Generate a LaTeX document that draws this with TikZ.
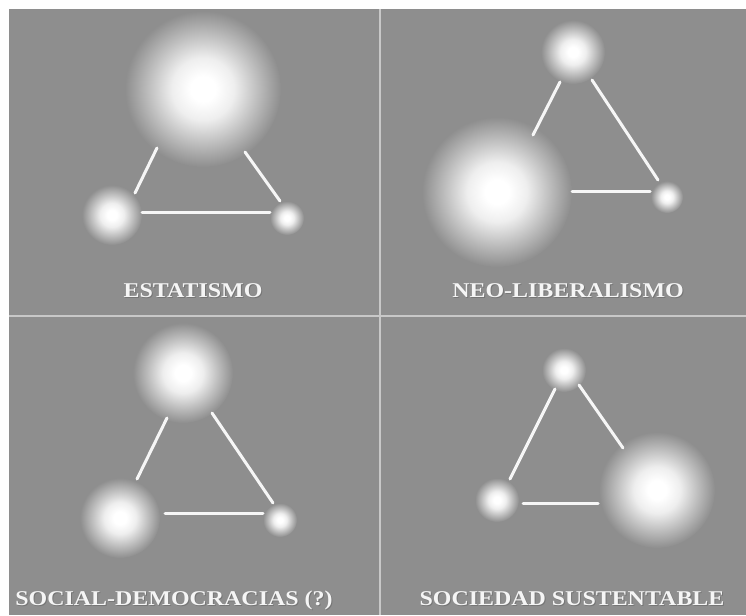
\documentclass[tikz,border=0pt]{standalone}
\usepackage{fontspec}
\newfontfamily\labfont[FakeStretch=1.14]{Liberation Serif}
\definecolor{bgc}{RGB}{142,142,142}
\definecolor{divc}{RGB}{200,200,200}
\definecolor{linec}{RGB}{246,246,246}
\definecolor{shadc}{RGB}{118,118,118}
\pgfdeclareradialshading{glow}{\pgfpoint{0bp}{0bp}}{color(0bp)=(white); color(4bp)=(white); color(10bp)=(white!85!bgc); color(17bp)=(white!45!bgc); color(25bp)=(bgc); color(50bp)=(bgc)}
\tikzset{
  ball/.style={circle, inner sep=0pt, draw=none, shade, shading=glow, minimum size=#1},
  link/.style={draw=linec, line width=3pt, line cap=round},
  divider/.style={draw=divc, line width=2.5pt},
  lab/.style={text=white!96!black, inner sep=0pt, anchor=base, font=\labfont\bfseries\fontsize{21}{24}\selectfont},
  labshadow/.style={text=shadc, inner sep=0pt, anchor=base, font=\labfont\bfseries\fontsize{21}{24}\selectfont}
}
\begin{document}
\begin{tikzpicture}[x=1pt,y=-1pt]
\useasboundingbox (0,0) rectangle (746,615);
\fill[white] (0,0) rectangle (746,615);
\fill[bgc] (9,9) rectangle (746,615);
% Quadrant 1: ESTATISMO
\node[ball=156pt] (a1) at (203,89) {};
\node[ball=60pt]  (a2) at (112,215) {};
\node[ball=34pt]  (a3) at (287,218) {};
% Quadrant 2: NEO-LIBERALISMO
\node[ball=64pt]  (b1) at (573,52) {};
\node[ball=150pt] (b2) at (497,192) {};
\node[ball=32pt]  (b3) at (667,197) {};
% Quadrant 3: SOCIAL-DEMOCRACIAS
\node[ball=100pt] (c1) at (183,373) {};
\node[ball=80pt]  (c2) at (120,518) {};
\node[ball=34pt]  (c3) at (280,520) {};
% Quadrant 4: SOCIEDAD SUSTENTABLE
\node[ball=44pt]  (d1) at (564,370) {};
\node[ball=44pt]  (d2) at (497,500) {};
\node[ball=116pt] (d3) at (657,490) {};
% dividers
\coordinate (vt) at (380,9);
\coordinate (vb) at (380,615);
\coordinate (hl) at (9,316);
\coordinate (hr) at (746,316);
\draw[divider] (vt) -- (vb);
\draw[divider] (hl) -- (hr);
% link end points
\coordinate (a12s) at (157,148); \coordinate (a12e) at (135,193);
\coordinate (a13s) at (245,152); \coordinate (a13e) at (280,201);
\coordinate (a23s) at (142,212); \coordinate (a23e) at (270,212);
\coordinate (b12s) at (560,82);  \coordinate (b12e) at (533,135);
\coordinate (b13s) at (592,80);  \coordinate (b13e) at (658,180);
\coordinate (b23s) at (572,191); \coordinate (b23e) at (650,191);
\coordinate (c12s) at (167,418); \coordinate (c12e) at (137,479);
\coordinate (c13s) at (212,413); \coordinate (c13e) at (273,503);
\coordinate (c23s) at (165,513); \coordinate (c23e) at (263,513);
\coordinate (d12s) at (555,389); \coordinate (d12e) at (510,479);
\coordinate (d13s) at (579,385); \coordinate (d13e) at (623,448);
\coordinate (d23s) at (523,503); \coordinate (d23e) at (598,503);
\foreach \p in {a12,a13,a23,b12,b13,b23,c12,c13,c23,d12,d13,d23}
  \draw[link] (\p s) -- (\p e);
% labels
\node[labshadow] (t1s) at (194,298) {ESTATISMO};
\node[lab] (t1) at (193,297) {ESTATISMO};
\node[labshadow] (t2s) at (569,298) {NEO-LIBERALISMO};
\node[lab] (t2) at (568,297) {NEO-LIBERALISMO};
\node[labshadow] (t3s) at (175,606) {SOCIAL-DEMOCRACIAS (?)};
\node[lab] (t3) at (174,605) {SOCIAL-DEMOCRACIAS (?)};
\node[labshadow] (t4s) at (573,606) {SOCIEDAD SUSTENTABLE};
\node[lab] (t4) at (572,605) {SOCIEDAD SUSTENTABLE};
\end{tikzpicture}
\end{document}
